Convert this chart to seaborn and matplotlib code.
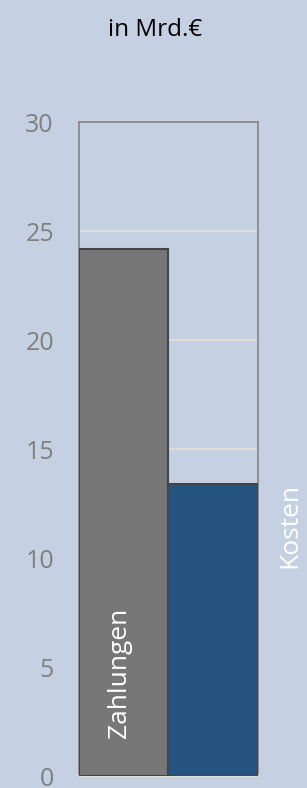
import matplotlib
matplotlib.use("Agg")
import matplotlib.pyplot as plt
import seaborn as sns
import pandas as pd

# Chart data
categories = ["Zahlungen", "Kosten"]
values = [24.2, 13.4]
bar_colors = ["#777777", "#24547f"]
y_ticks = [0, 5, 10, 15, 20, 25, 30]

bg = "#c5d0e2"

sns.set_theme(style="white")
plt.rcParams["font.family"] = ["Open Sans", "DejaVu Sans"]

df = pd.DataFrame({"cat": categories, "val": values})

fig = plt.figure(figsize=(3.07, 7.88), dpi=100, facecolor=bg)
ax = fig.add_axes([0.257, 0.015, 0.583, 0.83], facecolor=bg)

sns.barplot(data=df, x="cat", y="val", hue="cat", palette=bar_colors,
            saturation=1, width=1.0, legend=False, ax=ax,
            edgecolor="#454545", linewidth=1.5, zorder=3)

ax.set_ylim(0, 30)
ax.set_xlim(-0.5, 1.5)
ax.set_yticks(y_ticks)
ax.set_yticklabels([str(t) for t in y_ticks], color="#808080", fontsize=18)
ax.tick_params(axis="y", length=0, pad=18)
ax.set_xticks([])
ax.set_xlabel("")
ax.set_ylabel("")

# light gridlines
for t in y_ticks[1:-1]:
    ax.axhline(t, color="#dedcd6", linewidth=1.5, zorder=1)

for side in ["left", "top", "right"]:
    ax.spines[side].set_color("#8a8a8a")
    ax.spines[side].set_linewidth(1.3)
ax.spines["bottom"].set_color("#dedcd6")
ax.spines["bottom"].set_linewidth(1.5)

# bar labels
ax.text(-0.05, 4.75, categories[0], rotation=90, color="white",
        fontsize=19, ha="center", va="center", zorder=5)
ax.text(1.86, 11.5, categories[1], rotation=90, color="white",
        fontsize=19, ha="center", va="center", clip_on=False, zorder=5)

fig.text(0.505, 1 - 30 / 788, "in Mrd.€", ha="center", va="center",
         fontsize=17.5, color="black")

fig.savefig("out.png", dpi=100, facecolor=bg)
